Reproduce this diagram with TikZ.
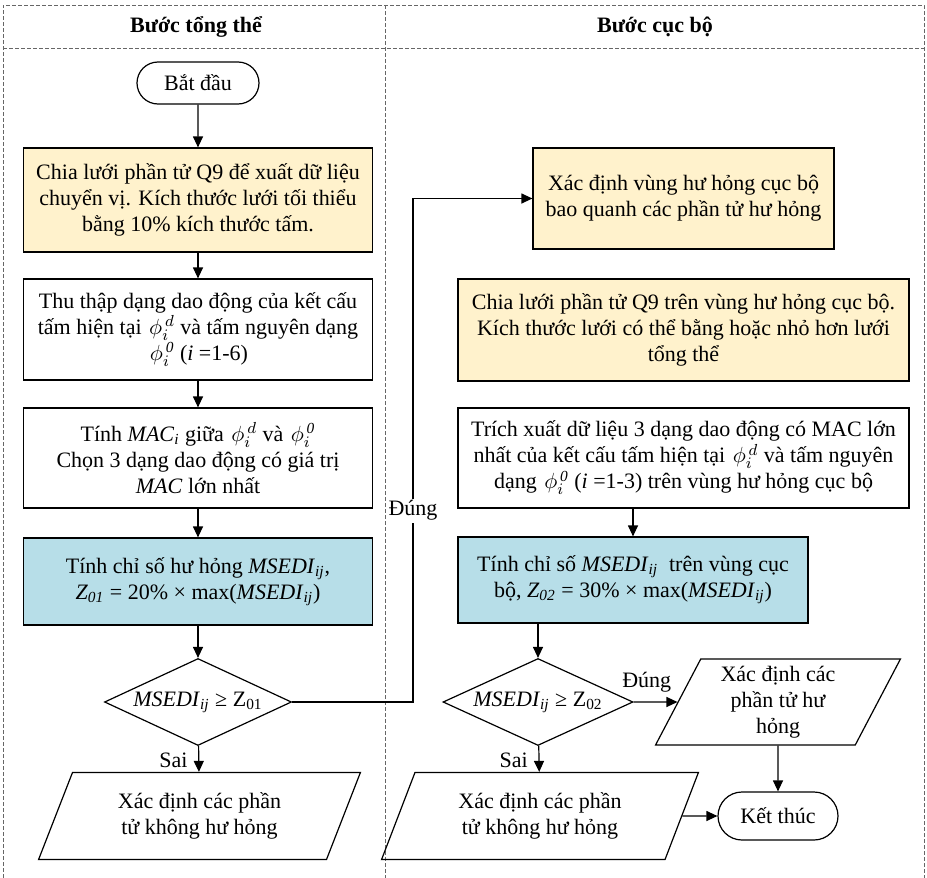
\documentclass[tikz,border=0pt]{standalone}
\usepackage{fontspec}
\setmainfont{Liberation Serif}
\usetikzlibrary{shapes.geometric,shapes.misc,arrows.meta}

\definecolor{meshyellow}{HTML}{FFF2CC}
\definecolor{msediblue}{HTML}{B7DEE8}

\newcommand{\msedi}{\textit{MSEDI}\textsubscript{\textit{ij}}}
\newcommand{\phid}{\kern1pt$\phi_i^{\,d}$}
\newcommand{\phio}{\kern1pt$\phi_i^{\,\mathit{0}}$}

\begin{document}
\begin{tikzpicture}[x=0.5pt,y=-0.5pt, line width=0.6pt,
    >={Triangle[length=5.5pt,width=5pt]},
    every node/.style={font=\fontsize{11}{13}\selectfont},
    box/.style={draw, line width=0.6pt, align=center, inner sep=0pt},
    term/.style={box, rounded rectangle},
    decision/.style={box, diamond, aspect=2.15},
    io/.style={box, trapezium, trapezium left angle=65, trapezium right angle=115,
        trapezium stretches=true},
    lane/.style={gray!80!black, line width=0.5pt, dash pattern=on 2pt off 1pt}]
\useasboundingbox (0,0) rectangle (927,878);

% khung hai buoc
\draw[lane] (3,878) -- (3,5) -- (924,5) -- (924,878);
\draw[lane] (3,48) -- (924,48);
\draw[lane] (385,5) -- (385,878);
\node[font=\fontsize{11}{13}\selectfont\bfseries] (headA) at (196,27) {Bước tổng thể};
\node[font=\fontsize{11}{13}\selectfont\bfseries] (headB) at (655,27) {Bước cục bộ};

% buoc tong the
\node[term, minimum width=61pt, minimum height=21pt] (start) at (198,83) {Bắt đầu};
\node[box, fill=meshyellow, minimum width=174.5pt, minimum height=52pt] (mesh) at (198,200)
    {Chia lưới phần tử Q9 để xuất dữ liệu\\chuyển vị. Kích thước lưới tối thiểu\\bằng 10\% kích thước tấm.};
\node[box, minimum width=174.5pt, minimum height=50.5pt] (collect) at (198,329.5)
    {Thu thập dạng dao động của kết cấu\\tấm hiện tại \phid{} và tấm nguyên dạng\\\phio{} (\textit{i} =1-6)};
\node[box, minimum width=174.5pt, minimum height=50pt] (mac) at (198,458)
    {Tính \textit{MAC}\textsubscript{\textit{i}} giữa \phid{} và \phio\\Chọn 3 dạng dao động có giá trị\\\textit{MAC} lớn nhất};
\node[box, fill=msediblue, minimum width=174.5pt, minimum height=43.5pt] (msediA) at (198,581.5)
    {Tính chỉ số hư hỏng \msedi,\\\textit{Z}\textsubscript{\textit{01}} = 20\% × max(\msedi)};
\node[decision, minimum width=93.5pt, minimum height=43.5pt] (checkA) at (198,702)
    {\msedi{} ≥ Z\textsubscript{01}};
\node[io, minimum width=161pt, minimum height=43.5pt] (intactA) at (199.5,816)
    {Xác định các phần\\tử không hư hỏng};

% buoc cuc bo
\node[box, fill=meshyellow, minimum width=150.5pt, minimum height=50.5pt] (region) at (683.5,198.5)
    {Xác định vùng hư hỏng cục bộ\\bao quanh các phần tử hư hỏng};
\node[box, fill=meshyellow, minimum width=225.5pt, minimum height=51pt] (meshB) at (683.5,330)
    {Chia lưới phần tử Q9 trên vùng hư hỏng cục bộ.\\Kích thước lưới có thể bằng hoặc nhỏ hơn lưới\\tổng thể};
\node[box, minimum width=225.5pt, minimum height=50pt] (extract) at (683.5,458)
    {Trích xuất dữ liệu 3 dạng dao động có MAC lớn\\nhất của kết cấu tấm hiện tại \phid{} và tấm nguyên\\dạng \phio{} (\textit{i} =1-3) trên vùng hư hỏng cục bộ};
\node[box, fill=msediblue, minimum width=175pt, minimum height=43pt] (msediB) at (633,580)
    {Tính chỉ số \msedi{}~ trên vùng cục\\bộ, \textit{Z}\textsubscript{\textit{02}} = 30\% × max(\msedi)};
\node[decision, minimum width=95pt, minimum height=43.5pt] (checkB) at (538,702)
    {\msedi{} ≥ Z\textsubscript{02}};
\node[io, minimum width=123.5pt, minimum height=43pt] (damaged) at (778,702)
    {Xác định các\\phần tử hư\\hỏng};
\node[io, minimum width=158.5pt, minimum height=43.5pt] (intactB) at (540,816)
    {Xác định các phần\\tử không hư hỏng};
\node[term, minimum width=60pt, minimum height=24pt] (stop) at (778,816) {Kết thúc};

% mui ten
\draw[->] (start) -- (mesh);
\draw[->] (mesh) -- (collect);
\draw[->] (collect) -- (mac);
\draw[->] (mac) -- (msediA);
\draw[->] (msediA) -- (checkA);
\draw[->] (checkA) -- (intactA) node[pos=0.55, left=2pt] {Sai};
\coordinate (turn) at (413,702);
\draw[->] (checkA.east) -- (turn) |- node[pos=0.19, fill=white, inner sep=1pt] {Đúng} (region.west);
\draw[->] (extract.south -| msediB) -- (msediB);
\draw[->] (msediB.south -| checkB) -- (checkB);
\draw[->] (checkB.east) -- (damaged.west) node[pos=0.3, above=1pt] {Đúng};
\draw[->] (checkB) -- (intactB) node[pos=0.55, left=2pt] {Sai};
\draw[->] (damaged) -- (stop);
\draw[->] (intactB.east) -- (stop.west);
\end{tikzpicture}
\end{document}
